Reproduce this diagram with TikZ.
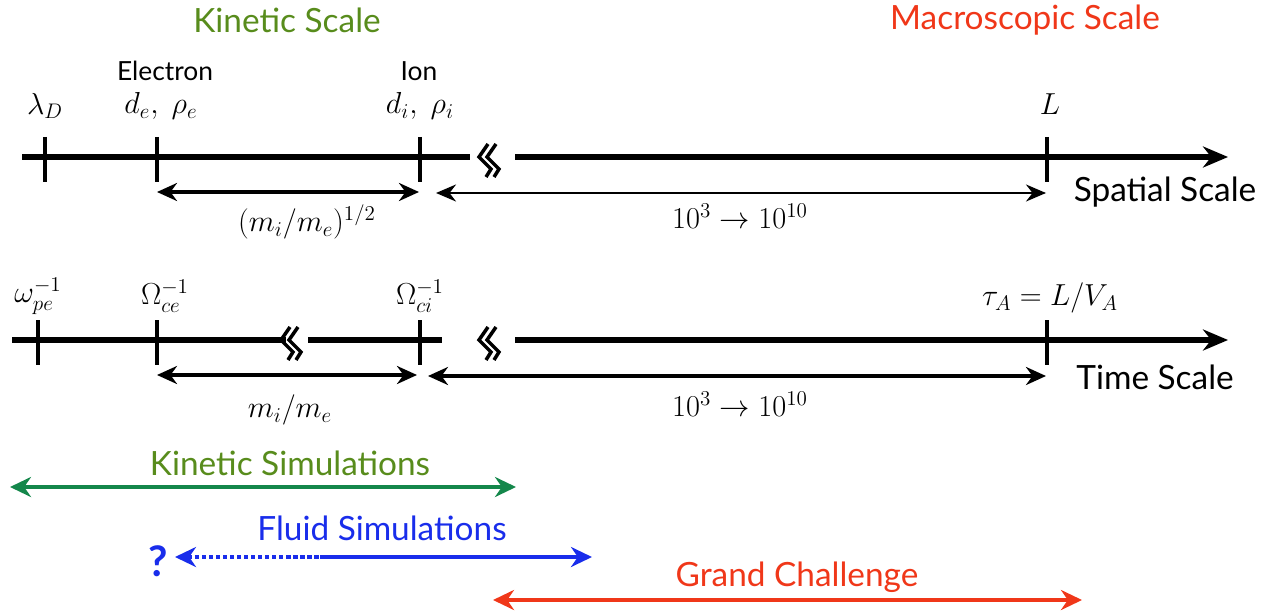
\documentclass[tikz,border=0pt]{standalone}
\usepackage{fontspec}
\setmainfont{Lato}
\usetikzlibrary{arrows.meta, positioning}
\definecolor{kingreen}{RGB}{88,140,28}
\definecolor{simgreen}{RGB}{20,135,75}
\definecolor{fluidblue}{RGB}{25,45,235}
\definecolor{macred}{RGB}{240,55,25}
\begin{document}
\begin{tikzpicture}[x=0.02cm, y=-0.02cm,
    heading/.style={font=\fontsize{19}{22}\selectfont},
    species/.style={font=\fontsize{15}{18}\selectfont},
    mathlbl/.style={font=\fontsize{18}{20}\selectfont},
    axisline/.style={line width=2.9pt},
    ticky/.style={line width=2.6pt},
    dimarr/.style={line width=2pt, {Stealth[length=0.4cm,width=0.36cm]}-{Stealth[length=0.4cm,width=0.36cm]}},
    thinarr/.style={line width=1.3pt, {Stealth[length=0.4cm,width=0.34cm]}-{Stealth[length=0.4cm,width=0.34cm]}},
    simarr/.style={line width=2.4pt, {Stealth[length=0.42cm,width=0.4cm]}-{Stealth[length=0.42cm,width=0.4cm]}},
    brk/.pic={\draw[line width=2pt, line join=miter]
        (3,-16)--(-6,-3)--(6,9)--(1,17) (11,-16)--(2,-3)--(14,9)--(9,17);}]
    \useasboundingbox (0,0) rectangle (1266,611);

    % headings
    \node[heading, text=kingreen] (kinscale) at (287,20) {Kinetic Scale};
    \node[heading, text=macred] (macscale) at (1025,20) {Macroscopic Scale};
    \node[species] (electron) at (165,71) {Electron};
    \node[species] (ion) at (419,71) {Ion};

    % spatial scale
    \coordinate (sp0) at (22,157);
    \coordinate (spbrkA) at (470,157);
    \coordinate (spbrkB) at (515,157);
    \coordinate (sp1) at (1228,157);
    \draw[axisline] (sp0) -- (spbrkA);
    \draw[axisline, -{Stealth[length=0.5cm,width=0.42cm]}] (spbrkB) -- (sp1);
    \pic at (485,160) {brk};
    \foreach \x in {45,157,420,1047}
        \draw[ticky] (\x,137) -- (\x,182);
    \node[mathlbl] (lamD) at (45,106) {$\lambda_D$};
    \node[mathlbl] (de) at (161,106) {$d_e,\ \rho_e$};
    \node[mathlbl] (di) at (420,106) {$d_i,\ \rho_i$};
    \node[mathlbl] (Lsp) at (1050,104) {$L$};
    \coordinate (spA1) at (157,192);
    \coordinate (spA2) at (419,192);
    \coordinate (spB1) at (436,193);
    \coordinate (spB2) at (1046,193);
    \draw[dimarr] (spA1) -- (spA2);
    \draw[thinarr] (spB1) -- (spB2);
    \node[mathlbl] (sqrtratio) at (307,222) {$(m_i/m_e)^{1/2}$};
    \node[mathlbl] (sprange) at (740,216) {$10^3\rightarrow10^{10}$};
    \node[heading] (spatial) at (1165,192) {Spatial Scale};

    % time scale
    \coordinate (tm0) at (12,340);
    \coordinate (tmbrkA) at (286,340);
    \coordinate (tmbrkB) at (308,340);
    \coordinate (tmbrkC) at (442,340);
    \coordinate (tmbrkD) at (515,340);
    \coordinate (tm1) at (1228,340);
    \draw[axisline] (tm0) -- (tmbrkA);
    \draw[axisline] (tmbrkB) -- (tmbrkC);
    \draw[axisline, -{Stealth[length=0.5cm,width=0.42cm]}] (tmbrkD) -- (tm1);
    \pic at (287,343) {brk};
    \pic at (485,343) {brk};
    \foreach \x in {38,157,420,1047}
        \draw[ticky] (\x,320) -- (\x,365);
    \node[mathlbl] (wpe) at (38,296) {$\omega_{pe}^{-1}$};
    \node[mathlbl] (Wce) at (165,296) {$\Omega_{ce}^{-1}$};
    \node[mathlbl] (Wci) at (420,296) {$\Omega_{ci}^{-1}$};
    \node[mathlbl] (tauA) at (1050,298) {$\tau_A=L/V_A$};
    \coordinate (tmA1) at (157,375);
    \coordinate (tmA2) at (417,375);
    \coordinate (tmB1) at (428,376);
    \coordinate (tmB2) at (1046,376);
    \draw[dimarr] (tmA1) -- (tmA2);
    \draw[dimarr] (tmB1) -- (tmB2);
    \node[mathlbl] (massratio) at (290,410) {$m_i/m_e$};
    \node[mathlbl] (tmrange) at (740,404) {$10^3\rightarrow10^{10}$};
    \node[heading] (time) at (1155,377) {Time Scale};

    % simulation ranges
    \node[heading, text=kingreen] (kinsim) at (290,463) {Kinetic Simulations};
    \coordinate (ks1) at (10,487);
    \coordinate (ks2) at (516,487);
    \draw[simarr, simgreen] (ks1) -- (ks2);

    \node[heading, text=fluidblue] (fluidsim) at (382,528) {Fluid Simulations};
    \node[font=\fontsize{24}{26}\selectfont\bfseries, text=fluidblue] (qmark) at (158,561) {?};
    \coordinate (fs1) at (175,557);
    \coordinate (fsmid) at (320,557);
    \coordinate (fs2) at (592,557);
    \draw[fluidblue, line width=2.4pt, dash pattern=on 2.4pt off 1.6pt, {Stealth[length=0.42cm,width=0.4cm]}-] (fs1) -- (fsmid);
    \draw[fluidblue, line width=2.4pt, -{Stealth[length=0.42cm,width=0.4cm]}] (fsmid) -- (fs2);

    \node[heading, text=macred] (grand) at (797,577) {Grand Challenge};
    \coordinate (gc1) at (493,600);
    \coordinate (gc2) at (1082,600);
    \draw[simarr, macred] (gc1) -- (gc2);
\end{tikzpicture}
\end{document}
